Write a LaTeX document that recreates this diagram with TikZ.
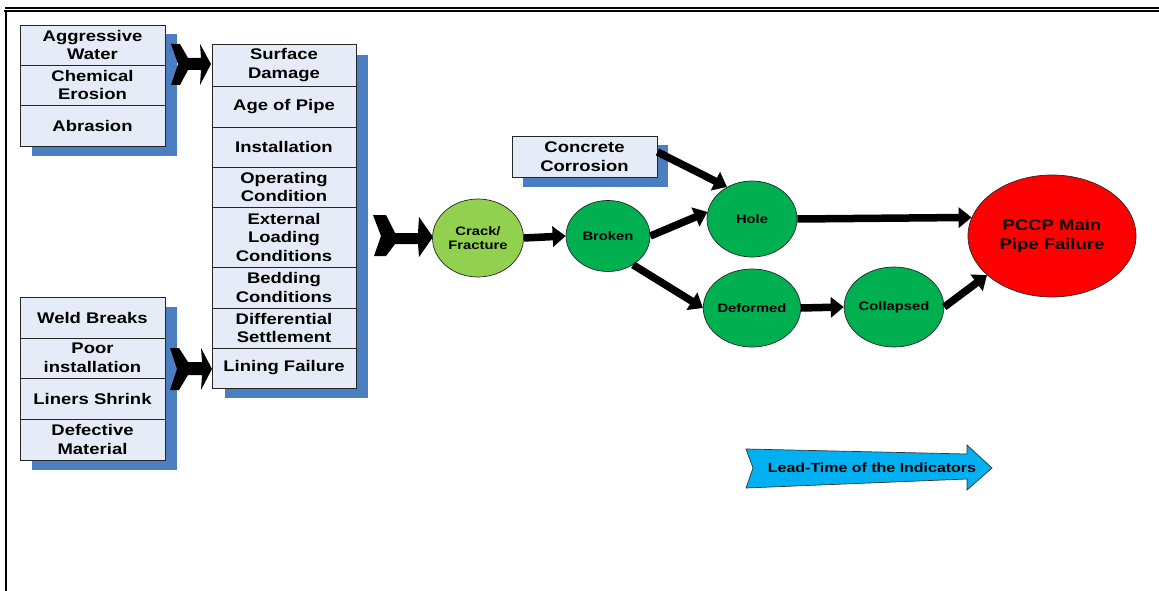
\documentclass[tikz,border=0pt]{standalone}
\usepackage{fontspec}
\newfontfamily\lab{Liberation Sans}[FakeStretch=1.2]
\usetikzlibrary{shapes.geometric,arrows.meta}
\definecolor{cellfill}{HTML}{E6ECF7}
\definecolor{shadowblue}{HTML}{4A7EC0}
\definecolor{lightgreen}{HTML}{92D050}
\definecolor{stagegreen}{HTML}{00B050}
\definecolor{failred}{HTML}{FF0000}
\definecolor{leadcyan}{HTML}{00B0F0}
\begin{document}
\begin{tikzpicture}[x=1pt,y=-1pt,
  cell/.style={draw=black!85, line width=0.8pt, fill=cellfill, inner sep=0pt,
    align=center, font=\lab\bfseries\fontsize{15.4}{18.5}\selectfont,
    minimum width=145pt},
  shade/.style={fill=shadowblue},
  stage/.style={ellipse, draw=black!85, line width=0.7pt, inner sep=0pt,
    align=center, font=\lab\bfseries\fontsize{12.3}{14.5}\selectfont},
  fat/.style={line width=7.5pt, -{Triangle[length=13pt,width=20pt]}},
  chevron/.style={fill=black}
]
\useasboundingbox (0,0) rectangle (1159,591);
\fill[white] (0,0) rectangle (1159,591);

% page frame
\draw[line width=2.3pt] (5,7.8) -- (1159,7.8);
\draw[line width=1.3pt] (4,11) -- (1159,11);
\draw[line width=2.3pt] (5.8,10) -- (5.8,591);

% drop shadows of the cause lists
\fill[shade] (32,34) rectangle (177,156);
\fill[shade] (225,55) rectangle (368,398);
\fill[shade] (32,307) rectangle (177,470);
\fill[shade] (523,145) rectangle (668,187);

% external causes (top)
\node[cell, minimum height=40pt] (aw) at (92.5,45) {Aggressive\\Water};
\node[cell, minimum height=40pt] (ce) at (92.5,85) {Chemical\\Erosion};
\node[cell, minimum height=41pt] (ab) at (92.5,125.5) {Abrasion};

% pipe condition factors
\node[cell, minimum width=144pt, minimum height=42pt] (sd) at (284,65) {Surface\\Damage};
\node[cell, minimum width=144pt, minimum height=41pt] (ap) at (284,106.5) {Age of Pipe};
\node[cell, minimum width=144pt, minimum height=40pt] (in) at (284,147) {Installation};
\node[cell, minimum width=144pt, minimum height=40pt] (oc) at (284,187) {Operating\\Condition};
\node[cell, minimum width=144pt, minimum height=60pt] (el) at (284,237) {External\\Loading\\Conditions};
\node[cell, minimum width=144pt, minimum height=41pt] (bc) at (284,287.5) {Bedding\\Conditions};
\node[cell, minimum width=144pt, minimum height=40pt] (ds) at (284,328) {Differential\\Settlement};
\node[cell, minimum width=144pt, minimum height=40pt] (lf) at (284,368) {Lining Failure};

% lining causes (bottom)
\node[cell, minimum height=41pt] (wb) at (92.5,317.5) {Weld Breaks};
\node[cell, minimum height=40pt] (pi) at (92.5,358) {Poor\\installation};
\node[cell, minimum height=41pt] (ls) at (92.5,398.5) {Liners Shrink};
\node[cell, minimum height=41pt] (dm) at (92.5,439.5) {Defective\\Material};

% concrete corrosion
\node[cell, minimum height=41pt] (cc) at (584.5,156.5) {Concrete\\Corrosion};

% chevron arrows
\fill[chevron] (171,44) -- (180,44) -- (188,58) -- (201,58) -- (200,44) -- (211,64)
  -- (200,85) -- (201,70) -- (188,70) -- (180,85) -- (171,85) -- (178,64) -- cycle;
\fill[chevron] (170,348) -- (179,348) -- (188,362) -- (202,362) -- (201,348) -- (212,369)
  -- (201,390) -- (202,375) -- (188,375) -- (179,390) -- (170,390) -- (177,369) -- cycle;
\fill[chevron] (373,215) -- (386,215) -- (395,233) -- (418,233) -- (419,217) -- (433,237)
  -- (419,257) -- (418,244) -- (395,244) -- (386,256) -- (374,256) -- (381,236) -- cycle;

% failure stages
\node[stage, fill=lightgreen, minimum width=91pt, minimum height=78pt] (crack) at (478,238) {Crack/\\Fracture};
\node[stage, fill=stagegreen, minimum width=84pt, minimum height=71pt] (broken) at (608,236) {Broken};
\node[stage, fill=stagegreen, minimum width=90pt, minimum height=76pt] (hole) at (752,219) {Hole};
\node[stage, fill=stagegreen, minimum width=92pt, minimum height=78pt] (deformed) at (752,308) {Deformed};
\node[stage, fill=stagegreen, minimum width=93pt, minimum height=80pt] (collapsed) at (894,307) {Collapsed};
\node[stage, fill=failred, minimum width=168pt, minimum height=122pt,
  font=\lab\bfseries\fontsize{15.4}{18.5}\selectfont] (pccp) at (1052,236) {PCCP Main\\Pipe Failure};

% progression arrows
\draw[fat] (crack.east) -- (broken.west);
\draw[fat] (broken.east) -- (hole.171);
\draw[fat] (cc.east |- 0,152) coordinate (ccout) -- (hole.128);
\draw[fat] (hole.east) -- (pccp.167);
\draw[fat] (broken.-49) -- (deformed.west);
\draw[fat] (deformed.east) -- (collapsed.west);
\draw[fat] (collapsed.east) -- (pccp.211);

% lead-time arrow
\filldraw[fill=leadcyan, draw=black!80, line width=0.7pt]
  (746,449) -- (967,454) -- (967,445) -- (992,468) -- (967,490) -- (967,479)
  -- (746,488) -- (753,468) -- cycle;
\node[font=\lab\bfseries\fontsize{13.3}{16}\selectfont, inner sep=0pt] (lead) at (872,468) {Lead-Time of the Indicators};
\end{tikzpicture}
\end{document}
